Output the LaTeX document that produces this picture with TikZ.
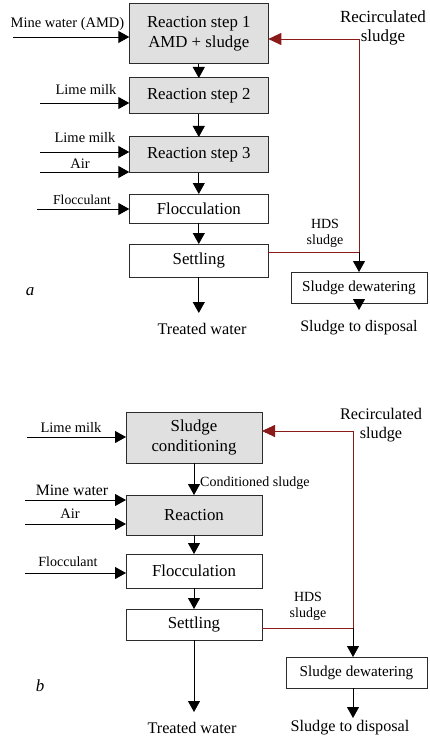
\documentclass[tikz,border=0pt]{standalone}
\usepackage{fontspec}
\setmainfont{Liberation Serif}
\usetikzlibrary{arrows.meta,positioning}
\definecolor{boxfill}{HTML}{E0E0E0}
\definecolor{recred}{HTML}{8B1A1A}
\definecolor{lineink}{HTML}{2B2B2B}

\begin{document}
\begin{tikzpicture}[x=1pt,y=-1pt,
  box/.style={draw=lineink,line width=1pt,inner sep=0pt,outer sep=0pt,
    align=center,font=\fontsize{16.8}{19.5}\selectfont},
  gbox/.style={box,fill=boxfill},
  flow/.style={-{Triangle[length=11pt,width=12pt]},line width=0.9pt,black},
  recyc/.style={recred,line width=0.9pt},
  lbl/.style={inner sep=0pt,align=center,font=\fontsize{14.5}{17}\selectfont},
  olbl/.style={lbl,font=\fontsize{16.2}{19}\selectfont},
  rlbl/.style={lbl,font=\fontsize{17}{19}\selectfont},
  hlbl/.style={lbl,font=\fontsize{14}{16.7}\selectfont}]

  \useasboundingbox (0,0) rectangle (429,738);

  % --- a ---
  \node[gbox,minimum width=139pt,minimum height=60pt] (rsa) at (198.8,34)
    {Reaction step 1\\AMD + sludge};
  \node[gbox,minimum width=139pt,minimum height=36pt] (rsb) at (198.8,96)
    {Reaction step 2};
  \node[gbox,minimum width=139pt,minimum height=36pt] (rsc) at (198.8,155)
    {Reaction step 3};
  \node[box,minimum width=139pt,minimum height=29pt] (floca) at (198.8,208.5)
    {Flocculation};
  \node[box,minimum width=139pt,minimum height=33pt] (setla) at (198.8,260.5)
    {Settling};
  \node[box,minimum width=136pt,minimum height=31pt,
    font=\fontsize{15.2}{18}\selectfont] (dewa) at (359,287.5)
    {Sludge dewatering};

  \coordinate (mwa) at (13,37);
  \coordinate (lma) at (40,103);
  \coordinate (lmb) at (40,152);
  \coordinate (aira) at (40,172);
  \coordinate (fla) at (37,209);
  \coordinate (twa) at (198.8,313);
  \coordinate (disa) at (359,310);
  \coordinate (hdsa) at (359,252);
  \coordinate (rca) at (359,39);

  \draw[flow] (mwa) -- (mwa -| rsa.west);
  \draw[flow] (lma) -- (lma -| rsb.west);
  \draw[flow] (lmb) -- (lmb -| rsc.west);
  \draw[flow] (aira) -- (aira -| rsc.west);
  \draw[flow] (fla) -- (fla -| floca.west);
  \draw[flow] (rsa) -- (rsb);
  \draw[flow] (rsb) -- (rsc);
  \draw[flow] (rsc) -- (floca);
  \draw[flow] (floca) -- (setla);
  \draw[flow] (setla.south) -- (twa);
  \draw[recyc] (setla.east |- hdsa) -- (hdsa) -- (rca);
  \draw[recyc,-{Triangle[length=13pt,width=12pt]}] (rca) -- (rca -| rsa.east);
  \draw[flow] (hdsa) -- (hdsa |- dewa.north);
  \draw[flow] (disa |- dewa.south) -- (disa);

  \node[lbl] (mwal) at (67.5,24) {Mine water (AMD)};
  \node[lbl] (lmal) at (86,90) {Lime milk};
  \node[lbl] (lmbl) at (85,138) {Lime milk};
  \node[lbl] (airal) at (80,164) {Air};
  \node[lbl,font=\fontsize{13.7}{16}\selectfont] (flal) at (82,200) {Flocculant};
  \node[rlbl] (rcal) at (383,27.5) {Recirculated\\sludge};
  \node[hlbl] (hdsal) at (325,233.5) {HDS\\sludge};
  \node[olbl] (twal) at (202,329) {Treated water};
  \node[olbl,font=\fontsize{16}{19}\selectfont] (disal) at (359,328)
    {Sludge to disposal};
  \node[olbl,font=\fontsize{17}{19}\itshape] (taga) at (30,292) {a};

  % --- b ---
  \node[gbox,minimum width=136pt,minimum height=51pt] (cond) at (194,437.5)
    {Sludge\\conditioning};
  \node[gbox,minimum width=136pt,minimum height=40pt] (reac) at (194,515)
    {Reaction};
  \node[box,minimum width=136pt,minimum height=34pt] (flocb) at (194,571)
    {Flocculation};
  \node[box,minimum width=136pt,minimum height=31pt] (setlb) at (194,624.5)
    {Settling};
  \node[box,minimum width=141pt,minimum height=31pt,
    font=\fontsize{15.2}{18}\selectfont] (dewb) at (356.5,672.5)
    {Sludge dewatering};

  \coordinate (lmc) at (27,437);
  \coordinate (mwb) at (25,500);
  \coordinate (airb) at (25,524);
  \coordinate (flb) at (25,573);
  \coordinate (twb) at (194,712);
  \coordinate (disb) at (353,718);
  \coordinate (hdsb) at (353,628);
  \coordinate (rcb) at (353,431);

  \draw[flow] (lmc) -- (lmc -| cond.west);
  \draw[flow] (mwb) -- (mwb -| reac.west);
  \draw[flow] (airb) -- (airb -| reac.west);
  \draw[flow] (flb) -- (flb -| flocb.west);
  \draw[flow] (cond) -- (reac);
  \draw[flow] (reac) -- (flocb);
  \draw[flow] (flocb) -- (setlb);
  \draw[flow] (setlb.south) -- (twb);
  \draw[recyc] (setlb.east |- hdsb) -- (hdsb) -- (rcb);
  \draw[recyc,-{Triangle[length=13pt,width=12pt]}] (rcb) -- (rcb -| cond.east);
  \draw[flow] (hdsb) -- (hdsb |- dewb.north);
  \draw[flow] (disb |- dewb.south) -- (disb);

  \node[lbl] (lmcl) at (71,428) {Lime milk};
  \node[olbl,font=\fontsize{15.8}{19}\selectfont] (mwbl) at (72,490) {Mine water};
  \node[lbl] (airbl) at (70,514) {Air};
  \node[lbl,font=\fontsize{14}{16}\selectfont] (flbl) at (68,562) {Flocculant};
  \node[lbl,anchor=west,font=\fontsize{14}{16}\selectfont] (cndl) at (200,483)
    {Conditioned sludge};
  \node[olbl] (rcbl) at (381,425.5) {Recirculated\\sludge};
  \node[hlbl] (hdsbl) at (308,606.5) {HDS\\sludge};
  \node[olbl] (twbl) at (192,728) {Treated water};
  \node[olbl] (disbl) at (350,728) {Sludge to disposal};
  \node[olbl,font=\fontsize{17}{19}\itshape] (tagb) at (40,686) {b};
\end{tikzpicture}
\end{document}
